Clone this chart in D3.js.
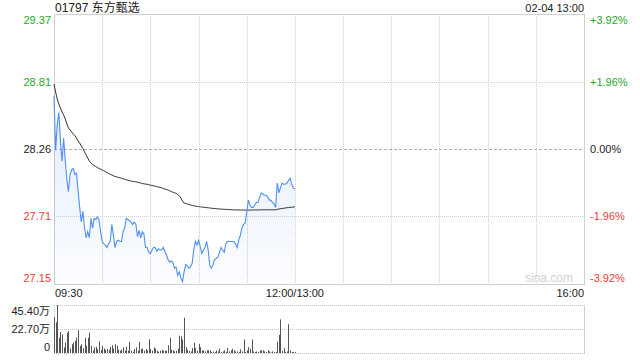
<!DOCTYPE html>
<html>
<head>
<meta charset="utf-8">
<script src="https://cdn.jsdelivr.net/npm/d3@7"></script>
<style>
  body { margin: 0; background: #fff; }
  svg text { font-family: "Liberation Sans", Arial, "Noto Sans CJK SC", sans-serif; font-size: 11px; }
</style>
</head>
<body>
<div id="chart"></div>
<script>
// 01797 东方甄选, 分时 02-04 (morning session only, 1 point per minute)
var title      = "01797 东方甄选";
var stamp      = "02-04 13:00";
var prevClose  = 28.26;
var priceTicks = [29.37, 28.81, 28.26, 27.71, 27.15];
var pctTicks   = ["+3.92%", "+1.96%", "0.00%", "-1.96%", "-3.92%"];
var timeTicks  = [0, 150, 330];
var timeLabels = ["09:30", "12:00/13:00", "16:00"];
var volTicks   = [45.4, 22.7, 0];
var volLabels  = ["45.40万", "22.70万", "0"];

var prices = [
  28.70, 28.25, 28.46, 28.56, 28.33, 28.16, 28.35, 28.17, 28.01, 27.91,
  28.05, 28.09, 28.10, 28.05, 28.06, 27.92, 27.78, 27.66, 27.75, 27.61,
  27.53, 27.58, 27.53, 27.69, 27.61, 27.69, 27.68, 27.70, 27.68, 27.58,
  27.50, 27.48, 27.47, 27.45, 27.48, 27.50, 27.64, 27.55, 27.45, 27.50,
  27.51, 27.50, 27.50, 27.58, 27.61, 27.69, 27.68, 27.67, 27.66, 27.64,
  27.66, 27.64, 27.54, 27.59, 27.53, 27.58, 27.56, 27.45, 27.45, 27.41,
  27.40, 27.43, 27.45, 27.45, 27.42, 27.44, 27.43, 27.43, 27.45, 27.42,
  27.39, 27.35, 27.33, 27.34, 27.33, 27.28, 27.29, 27.22, 27.25, 27.20,
  27.17, 27.25, 27.31, 27.30, 27.28, 27.29, 27.32, 27.43, 27.50, 27.47,
  27.51, 27.46, 27.40, 27.43, 27.45, 27.50, 27.43, 27.30, 27.28, 27.31,
  27.35, 27.36, 27.37, 27.41, 27.45, 27.43, 27.41, 27.48, 27.50, 27.50,
  27.50, 27.50, 27.50, 27.48, 27.45, 27.51, 27.55, 27.61, 27.64, 27.65,
  27.74, 27.84, 27.80, 27.78, 27.78, 27.80, 27.82, 27.82, 27.86, 27.90,
  27.89, 27.88, 27.88, 27.87, 27.84, 27.84, 27.82, 27.81, 27.78, 27.98,
  27.90, 27.94, 27.98, 27.97, 27.97, 27.98, 28.00, 28.02, 27.97, 27.94,
  27.93
];

var avgPrices = [
  28.794, 28.729, 28.671, 28.630, 28.597, 28.564, 28.540, 28.507, 28.466, 28.433,
  28.416, 28.400, 28.383, 28.371, 28.350, 28.326, 28.309, 28.285, 28.264, 28.235,
  28.211, 28.186, 28.161, 28.145, 28.133, 28.124, 28.116, 28.108, 28.100, 28.094,
  28.087, 28.081, 28.074, 28.065, 28.059, 28.052, 28.046, 28.040, 28.034, 28.031,
  28.027, 28.023, 28.019, 28.015, 28.011, 28.007, 28.003, 28.000, 27.997, 27.994,
  27.992, 27.989, 27.987, 27.984, 27.980, 27.976, 27.974, 27.971, 27.970, 27.966,
  27.963, 27.960, 27.957, 27.954, 27.951, 27.948, 27.944, 27.941, 27.935, 27.931,
  27.927, 27.923, 27.916, 27.911, 27.905, 27.900, 27.896, 27.886, 27.874, 27.857,
  27.832, 27.816, 27.812, 27.808, 27.804, 27.800, 27.796, 27.793, 27.791, 27.788,
  27.786, 27.785, 27.783, 27.781, 27.780, 27.778, 27.777, 27.775, 27.773, 27.772,
  27.771, 27.769, 27.768, 27.767, 27.766, 27.765, 27.764, 27.763, 27.763, 27.762,
  27.761, 27.760, 27.760, 27.759, 27.759, 27.759, 27.758, 27.758, 27.758, 27.758,
  27.758, 27.758, 27.758, 27.758, 27.759, 27.759, 27.759, 27.759, 27.759, 27.760,
  27.760, 27.760, 27.760, 27.760, 27.760, 27.760, 27.760, 27.760, 27.760, 27.763,
  27.767, 27.769, 27.771, 27.773, 27.775, 27.777, 27.778, 27.780, 27.781, 27.783,
  27.785
];

// 成交量, 万股
var volumes = [
  34, 29, 45.4, 14.5, 19.8, 17.6, 5.3, 10, 19.2, 20.7,
  4.3, 8.3, 10, 11.4, 14.5, 21.6, 6.8, 8.3, 4.5, 14.5,
  6.8, 14.5, 19.2, 6.8, 2.2, 5.3, 5.9, 3.7, 11, 2.8,
  6.8, 4.3, 3.1, 3.7, 3.1, 5.9, 7.4, 4.3, 8.3, 6.8,
  3.1, 2.2, 3.1, 5.3, 2.2, 5.9, 2.2, 10.5, 2.2, 1.2,
  3.7, 5.3, 2.2, 10.5, 3.7, 4.3, 2.2, 3.7, 2.5, 13,
  3.7, 2.2, 5.3, 4.3, 2.2, 1.2, 2.2, 3.1, 2.2, 2.2,
  2.2, 7.4, 14.5, 3, 2.5, 1.5, 2, 4, 16.4, 15.8,
  12.7, 33.4, 5.5, 3, 2, 1.5, 4.6, 9.6, 4.6, 2,
  8.7, 5.5, 2.5, 2.5, 1.5, 2.5, 2.5, 2.5, 1, 1.5,
  1, 2.5, 1.5, 4, 1, 1.5, 2.5, 1, 4.6, 1.5,
  2.5, 4, 2.5, 1.5, 1.5, 1, 3.5, 1.5, 12.7, 1,
  2.5, 5.5, 4, 12.7, 1.5, 1, 1.5, 1, 2.5, 2.5,
  2.5, 1.5, 1, 2.5, 1.5, 0.5, 1.5, 1, 1, 10.8,
  17, 31.8, 2, 4.6, 1, 1.5, 27.2, 2.5, 1, 1,
  1
];

var W = 640, H = 360;
var L = 54, R = 584, T = 14, B = 284;
var VT = 305, VB = 353;

var green = "#1fa81f", red = "#f03a3a";
function tickColor(v) { return v > prevClose ? green : (v < prevClose ? red : "#222"); }

var svg = d3.select("#chart").append("svg")
            .attr("width", W)
            .attr("height", H);

var x  = d3.scaleLinear().domain([0, 330]).range([L, R]);
var y  = d3.scaleLinear().domain([priceTicks[4], priceTicks[0]]).range([B, T]);
var yv = d3.scaleLinear().domain([0, volTicks[0]]).range([VB, VT]);

// gradient under the price line
var grad = svg.append("defs").append("linearGradient")
              .attr("id", "fillGrad")
              .attr("gradientUnits", "userSpaceOnUse")
              .attr("x1", 0).attr("y1", T).attr("x2", 0).attr("y2", B);
grad.append("stop").attr("offset", 0).attr("stop-color", "#3d7ef0").attr("stop-opacity", 0.2);
grad.append("stop").attr("offset", 1).attr("stop-color", "#3d7ef0").attr("stop-opacity", 0.02);

// vertical grid every 30 min
var gridMins = d3.range(30, 330, 30);
svg.selectAll("line.vgrid")
   .data(gridMins)
   .enter()
   .append("line")
   .attr("class", "vgrid")
   .attr("x1", function(d){ return Math.round(x(d)) + 0.5; })
   .attr("x2", function(d){ return Math.round(x(d)) + 0.5; })
   .attr("y1", T)
   .attr("y2", B)
   .attr("stroke", "#d0d0d0")
   .attr("stroke-dasharray", "1,1");

// horizontal grid
svg.selectAll("line.hgrid")
   .data(priceTicks.slice(1, 4))
   .enter()
   .append("line")
   .attr("class", "hgrid")
   .attr("x1", L)
   .attr("x2", R)
   .attr("y1", function(d){ return Math.round(y(d)) + 0.5; })
   .attr("y2", function(d){ return Math.round(y(d)) + 0.5; })
   .attr("stroke", function(d){ return d === prevClose ? "#b0b0b0" : "#d0d0d0"; })
   .attr("stroke-dasharray", function(d){ return d === prevClose ? "3,2" : "1,1"; });

// frame
svg.append("rect")
   .attr("x", L + 0.5).attr("y", T + 0.5)
   .attr("width", R - L).attr("height", B - T)
   .attr("fill", "none")
   .attr("stroke", "#cfcfcf");

// area + lines
var idx = d3.range(prices.length);
svg.append("path")
   .datum(idx)
   .attr("d", d3.area()
                .x(function(i){ return x(i); })
                .y0(B)
                .y1(function(i){ return y(prices[i]); }))
   .attr("fill", "url(#fillGrad)");

svg.append("path")
   .datum(idx)
   .attr("d", d3.line()
                .x(function(i){ return x(i); })
                .y(function(i){ return y(avgPrices[i]); }))
   .attr("fill", "none")
   .attr("stroke", "#333")
   .attr("stroke-width", 1);

svg.append("path")
   .datum(idx)
   .attr("d", d3.line()
                .x(function(i){ return x(i); })
                .y(function(i){ return y(prices[i]); }))
   .attr("fill", "none")
   .attr("stroke", "#5090f0")
   .attr("stroke-width", 1.1);

// watermark
svg.append("text")
   .attr("x", 573).attr("y", 282)
   .attr("text-anchor", "end")
   .attr("fill", "#d0d0d0")
   .style("font-size", "12px")
   .text("sina.com");

// title + time stamp
svg.append("text").attr("x", 55).attr("y", 12).attr("fill", "#222").style("font-size", "12px").text(title);
svg.append("text").attr("x", R).attr("y", 12).attr("text-anchor", "end").attr("fill", "#222").text(stamp);

// price labels (left) and pct labels (right)
function labelY(v, k) {
  if (k === 0) return y(v) + 10;
  if (k === priceTicks.length - 1) return y(v) - 2;
  return y(v) + 4;
}
svg.selectAll("text.pl")
   .data(priceTicks)
   .enter()
   .append("text")
   .attr("class", "pl")
   .attr("x", 51)
   .attr("y", function(d, k){ return labelY(d, k); })
   .attr("text-anchor", "end")
   .attr("fill", function(d){ return tickColor(d); })
   .text(function(d){ return d.toFixed(2); });

svg.selectAll("text.pr")
   .data(pctTicks)
   .enter()
   .append("text")
   .attr("class", "pr")
   .attr("x", 590)
   .attr("y", function(d, k){ return labelY(priceTicks[k], k); })
   .attr("fill", function(d, k){ return tickColor(priceTicks[k]); })
   .text(function(d){ return d; });

// time labels
svg.selectAll("text.tl")
   .data(timeTicks)
   .enter()
   .append("text")
   .attr("class", "tl")
   .attr("x", function(d, k){ return k === 0 ? x(d) + 1 : x(d); })
   .attr("y", 297)
   .attr("text-anchor", function(d, k){ return k === 0 ? "start" : (k === 1 ? "middle" : "end"); })
   .attr("fill", "#222")
   .text(function(d, k){ return timeLabels[k]; });

// volume panel grid
svg.selectAll("line.vol")
   .data(volTicks)
   .enter()
   .append("line")
   .attr("class", "vol")
   .attr("x1", L)
   .attr("x2", R)
   .attr("y1", function(d){ return Math.round(yv(d)) + 0.5; })
   .attr("y2", function(d){ return Math.round(yv(d)) + 0.5; })
   .attr("stroke", "#c4c4c4")
   .attr("stroke-dasharray", "1,1");

svg.append("line")
   .attr("x1", L + 0.5).attr("x2", L + 0.5)
   .attr("y1", VT).attr("y2", VB)
   .attr("stroke", "#c4c4c4")
   .attr("stroke-dasharray", "1,1");
svg.append("line")
   .attr("x1", R + 0.5).attr("x2", R + 0.5)
   .attr("y1", VT).attr("y2", VB + 1)
   .attr("stroke", "#cfcfcf");

svg.selectAll("rect.bar")
   .data(volumes)
   .enter()
   .append("rect")
   .attr("class", "bar")
   .attr("x", function(d, i){ return Math.round(x(i)); })
   .attr("y", function(d){ return yv(d); })
   .attr("width", 1)
   .attr("height", function(d){ return VB - yv(d); })
   .attr("fill", "#555");

svg.selectAll("text.vl")
   .data(volTicks)
   .enter()
   .append("text")
   .attr("class", "vl")
   .attr("x", 50)
   .attr("y", function(d, k){ return k === 0 ? yv(d) + 10 : (k === 1 ? yv(d) + 4 : yv(d) - 2); })
   .attr("text-anchor", "end")
   .attr("fill", "#222")
   .text(function(d, k){ return volLabels[k]; });
</script>
</body>
</html>
